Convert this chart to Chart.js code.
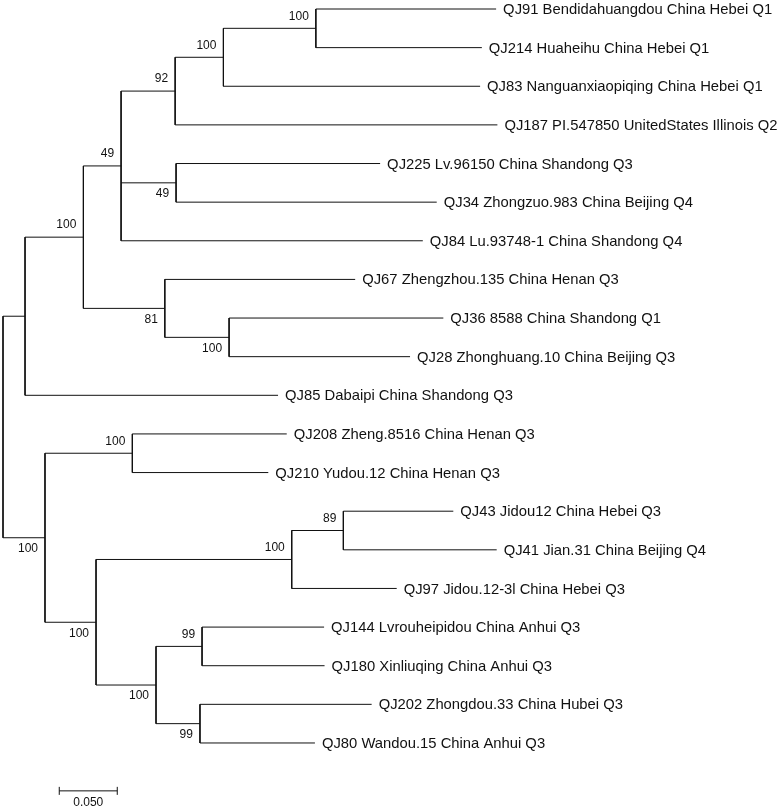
<!DOCTYPE html>
<html>
<head>
<meta charset="utf-8">
<script src="https://cdn.jsdelivr.net/npm/chart.js@4/dist/chart.umd.min.js"></script>
<style>
  html, body { margin: 0; padding: 0; background: #fff; }
  #wrap { width: 783px; height: 808px; position: relative; }
</style>
</head>
<body>
<div id="wrap"><canvas id="c" width="783" height="808"></canvas></div>
<script>
// ---- Tree data (nodes listed in drawing order, top to bottom) ----
const nodeIds = ["root","n1","n2","n3","n4","n5","n6","QJ91","QJ214","QJ83","QJ187","n7","QJ225","QJ34","QJ84","n8","QJ67","n9","QJ36","QJ28","QJ85","n10","n11","QJ208","QJ210","n12","n13","n14","QJ43","QJ41","QJ97","n15","n16","QJ144","QJ180","n17","QJ202","QJ80"];
const parentIds = [null,"root","n1","n2","n3","n4","n5","n6","n6","n5","n4","n3","n7","n7","n3","n2","n8","n8","n9","n9","n1","root","n10","n11","n11","n10","n12","n13","n14","n14","n13","n12","n15","n16","n16","n15","n17","n17"];
const branchLengths = [0,0.0190,0.0503,0.0325,0.0466,0.0416,0.0797,0.1554,0.1431,0.2213,0.2778,0.0474,0.1759,0.2247,0.2601,0.0702,0.1641,0.0554,0.1847,0.1560,0.2181,0.0362,0.0753,0.1331,0.1172,0.0440,0.1687,0.0445,0.0948,0.1322,0.0905,0.0517,0.0397,0.1052,0.1056,0.0379,0.1480,0.0991];
const bootstrap = [null,null,100,49,92,100,100,null,null,null,null,49,null,null,null,81,null,100,null,null,null,100,100,null,null,100,100,89,null,null,null,100,99,null,null,99,null,null];

// ---- Taxon labels ----
const taxa = ["QJ91","QJ214","QJ83","QJ187","QJ225","QJ34","QJ84","QJ67","QJ36","QJ28","QJ85","QJ208","QJ210","QJ43","QJ41","QJ97","QJ144","QJ180","QJ202","QJ80"];
const taxonLabels = [
  "QJ91 Bendidahuangdou China Hebei Q1",
  "QJ214 Huaheihu China Hebei Q1",
  "QJ83 Nanguanxiaopiqing China Hebei Q1",
  "QJ187 PI.547850 UnitedStates Illinois Q2",
  "QJ225 Lv.96150 China Shandong Q3",
  "QJ34 Zhongzuo.983 China Beijing Q4",
  "QJ84 Lu.93748-1 China Shandong Q4",
  "QJ67 Zhengzhou.135 China Henan Q3",
  "QJ36 8588 China Shandong Q1",
  "QJ28 Zhonghuang.10 China Beijing Q3",
  "QJ85 Dabaipi China Shandong Q3",
  "QJ208 Zheng.8516 China Henan Q3",
  "QJ210 Yudou.12 China Henan Q3",
  "QJ43 Jidou12 China Hebei Q3",
  "QJ41 Jian.31 China Beijing Q4",
  "QJ97 Jidou.12-3l China Hebei Q3",
  "QJ144 Lvrouheipidou China Anhui Q3",
  "QJ180 Xinliuqing China Anhui Q3",
  "QJ202 Zhongdou.33 China Hubei Q3",
  "QJ80 Wandou.15 China Anhui Q3"
];

// ---- Scale bar ----
const scaleBarLength = 0.05;
const scaleBarLabel = "0.050";

// ---- Build layout from the tree data ----
const N = nodeIds.length;
const idx = {}; nodeIds.forEach((id, i) => idx[id] = i);
const children = nodeIds.map(() => []);
parentIds.forEach((p, i) => { if (p !== null) children[idx[p]].push(i); });
const depth = new Array(N).fill(0);
for (let i = 0; i < N; i++) {
  depth[i] = parentIds[i] === null ? 0 : depth[idx[parentIds[i]]] + branchLengths[i];
}
const ypos = new Array(N).fill(null);
let leafCounter = 0;
function place(i) {
  if (children[i].length === 0) { ypos[i] = leafCounter++; return; }
  children[i].forEach(place);
  const ch = children[i];
  ypos[i] = (ypos[ch[0]] + ypos[ch[ch.length - 1]]) / 2;
}
place(0);

const LINE = "#111";
const datasets = [];
for (let i = 0; i < N; i++) {
  if (parentIds[i] !== null) {
    const p = idx[parentIds[i]];
    datasets.push({ data: [{x: depth[p], y: ypos[i]}, {x: depth[i], y: ypos[i]}] });
  }
  if (children[i].length) {
    const ch = children[i];
    datasets.push({ data: [{x: depth[i], y: ypos[ch[0]]}, {x: depth[i], y: ypos[ch[ch.length - 1]]}] });
  }
}
// scale bar (placed below the tree)
const barX0 = 0.0485, barY = 20.24;
datasets.push({ data: [{x: barX0, y: barY}, {x: barX0 + scaleBarLength, y: barY}] });
datasets.forEach(d => Object.assign(d, {
  showLine: true, borderColor: LINE, borderWidth: 1, pointRadius: 0, pointHoverRadius: 0, fill: false, tension: 0
}));

const textPlugin = {
  id: 'treeText',
  afterDatasetsDraw(chart) {
    const ctx = chart.ctx, xs = chart.scales.x, ys = chart.scales.y;
    ctx.save();
    ctx.fillStyle = "#111";
    // leaf labels
    ctx.font = '14.8px "Liberation Sans", Arial, sans-serif';
    ctx.textAlign = 'left'; ctx.textBaseline = 'middle';
    for (let i = 0; i < N; i++) {
      if (children[i].length) continue;
      const t = taxa.indexOf(nodeIds[i]);
      ctx.fillText(taxonLabels[t], xs.getPixelForValue(depth[i]) + 7, ys.getPixelForValue(ypos[i]) + 1);
    }
    // bootstrap values
    ctx.font = '12px "Liberation Sans", Arial, sans-serif';
    ctx.textAlign = 'right';
    for (let i = 0; i < N; i++) {
      if (bootstrap[i] === null) continue;
      const p = idx[parentIds[i]];
      const first = children[p][0] === i;
      const px = xs.getPixelForValue(depth[i]) - 7;
      const py = ys.getPixelForValue(ypos[i]) + (first ? -12 : 11);
      ctx.fillText(String(bootstrap[i]), px, py);
    }
    // scale bar end ticks and label
    const bx0 = xs.getPixelForValue(barX0), bx1 = xs.getPixelForValue(barX0 + scaleBarLength);
    const by = ys.getPixelForValue(barY);
    ctx.strokeStyle = LINE; ctx.lineWidth = 1;
    ctx.beginPath();
    ctx.moveTo(bx0, by - 4); ctx.lineTo(bx0, by + 4);
    ctx.moveTo(bx1, by - 4); ctx.lineTo(bx1, by + 4);
    ctx.stroke();
    ctx.textAlign = 'center';
    ctx.fillText(scaleBarLabel, (bx0 + bx1) / 2, by + 12);
    ctx.restore();
  }
};

new Chart(document.getElementById('c'), {
  type: 'scatter',
  data: { datasets },
  options: {
    responsive: false,
    animation: false,
    devicePixelRatio: 1,
    layout: { padding: 0 },
    plugins: { legend: { display: false }, tooltip: { enabled: false } },
    events: [],
    scales: {
      x: { type: 'linear', display: false, min: -3 / 1160, max: 780 / 1160 },
      y: { type: 'linear', display: false, min: -9 / 38.63, max: 799 / 38.63, reverse: true }
    }
  },
  plugins: [textPlugin]
});
</script>
</body>
</html>
